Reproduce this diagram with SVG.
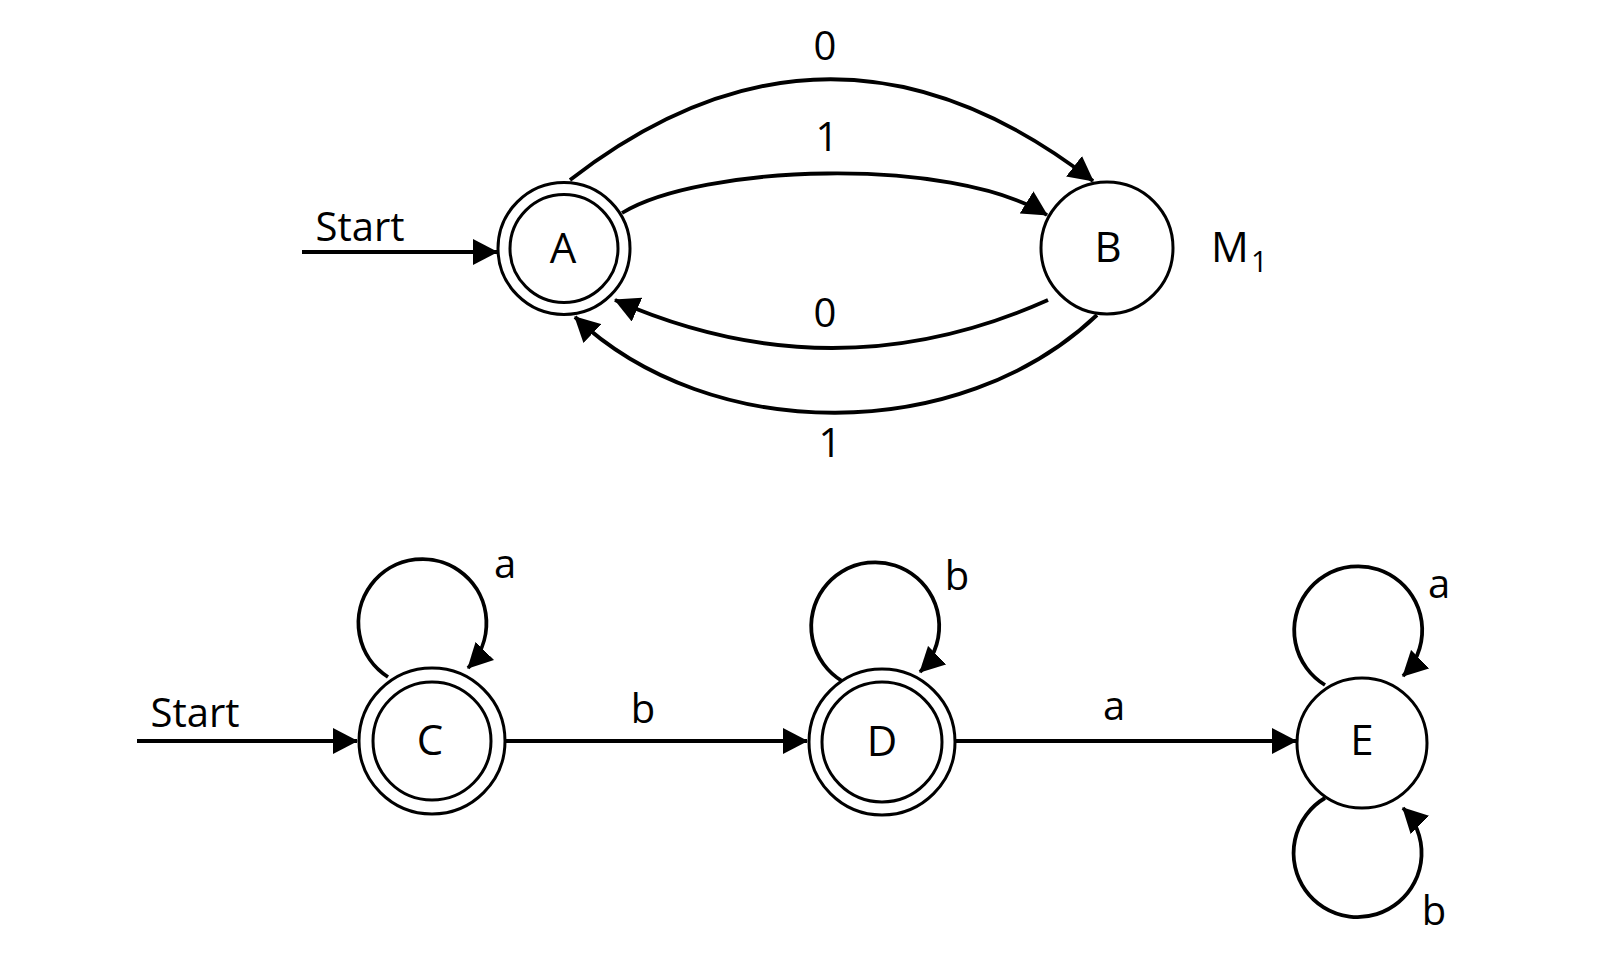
<svg xmlns="http://www.w3.org/2000/svg" width="1607" height="979" viewBox="0 0 1607 979">
<style>
.bg{fill:#ffffff}
.st{fill:none;stroke:#000;stroke-width:3}
.ed{fill:none;stroke:#000;stroke-width:3.8}
.t{font-family:"Open Sans","Liberation Sans",sans-serif;font-size:40px;fill:#000;text-anchor:middle}
.n{font-size:42px}
</style>
<defs>
<marker id="ah" markerUnits="userSpaceOnUse" viewBox="0 0 25 26" markerWidth="25" markerHeight="26" refX="24" refY="13" orient="auto">
<path d="M0,0 L25,13 L0,26 z" fill="#000"/>
</marker>
</defs>
<rect class="bg" x="0" y="0" width="1607" height="979"/>
<g id="connectors">
<path class="ed" d="M302,252 L497,252" marker-end="url(#ah)"/>
<path class="ed" d="M570,180 Q831,-22 1093,181" marker-end="url(#ah)"/>
<path class="ed" d="M622,213 C700,165 950,155 1047,215" marker-end="url(#ah)"/>
<path class="ed" d="M1048,300 Q833,396 615,300" marker-end="url(#ah)"/>
<path class="ed" d="M1097,315 C960,445 710,445 575,317" marker-end="url(#ah)"/>
<path class="ed" d="M137,741 L357,741" marker-end="url(#ah)"/>
<path class="ed" d="M506,741 L807,741" marker-end="url(#ah)"/>
<path class="ed" d="M956,741 L1296,741" marker-end="url(#ah)"/>
<path class="ed" d="M388,677 A64,64 0 1 1 468,668" marker-end="url(#ah)"/>
<path class="ed" d="M842,681 A64,64 0 1 1 920,672" marker-end="url(#ah)"/>
<path class="ed" d="M1325,685 A64,64 0 1 1 1403,676" marker-end="url(#ah)"/>
<path class="ed" d="M1325,798 A64,64 0 1 0 1403,808" marker-end="url(#ah)"/>
<text class="t" x="360" y="241">Start</text>
<text class="t" x="825" y="60">0</text>
<text class="t" x="827" y="151">1</text>
<text class="t" x="825" y="327">0</text>
<text class="t" x="830" y="457">1</text>
<text class="t" x="195" y="727">Start</text>
<text class="t" x="505" y="578">a</text>
<text class="t" x="643" y="723">b</text>
<text class="t" x="957" y="590">b</text>
<text class="t" x="1114" y="720">a</text>
<text class="t" x="1439" y="598">a</text>
<text class="t" x="1434" y="925">b</text>
</g>
<g id="node-A">
<circle class="st" cx="564" cy="248.5" r="66"/>
<circle class="st" cx="564" cy="248.5" r="54"/>
<text class="t n" x="563" y="263">A</text>
</g>
<g id="node-B">
<circle class="st" cx="1107" cy="248" r="66"/>
<text class="t n" x="1108" y="262">B</text>
</g>
<g id="label-M1">
<text class="t" x="1211" y="262" style="text-anchor:start;font-size:42px">M<tspan x="1251" y="272" style="font-size:29px">1</tspan></text>
</g>
<g id="node-C">
<circle class="st" cx="432" cy="741" r="73"/>
<circle class="st" cx="432" cy="741" r="59"/>
<text class="t n" x="430" y="755">C</text>
</g>
<g id="node-D">
<circle class="st" cx="882" cy="742" r="73"/>
<circle class="st" cx="882" cy="742" r="60"/>
<text class="t n" x="882" y="756">D</text>
</g>
<g id="node-E">
<circle class="st" cx="1362" cy="743" r="65"/>
<text class="t n" x="1362" y="755">E</text>
</g>
</svg>
